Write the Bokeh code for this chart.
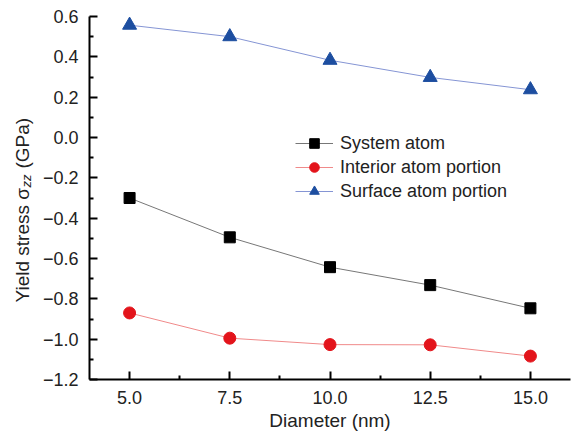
import math
from bokeh.plotting import figure
from bokeh.layouts import row
from bokeh.models import FixedTicker, CustomJSTickFormatter, Legend, LegendItem
from bokeh.core.properties import value
from bokeh.embed import file_html
from bokeh.resources import INLINE

# ---- data ----
diameter = [5.0, 7.5, 10.0, 12.5, 15.0]
system_atom = [-0.30, -0.495, -0.643, -0.732, -0.847]
interior_atom = [-0.870, -0.995, -1.027, -1.028, -1.084]
surface_atom = [0.557, 0.500, 0.383, 0.298, 0.237]
x_ticks = [5.0, 7.5, 10.0, 12.5, 15.0]
x_minor = [6.25, 8.75, 11.25, 13.75]
y_ticks = [-1.2, -1.0, -0.8, -0.6, -0.4, -0.2, 0.0, 0.2, 0.4, 0.6]
y_minor = [-1.1, -0.9, -0.7, -0.5, -0.3, -0.1, 0.1, 0.3, 0.5]
y_label_parts = ["Yield stress \u03c3", "zz", "(GPa)"]
x_label = "Diameter (nm)"
series_names = ["System atom", "Interior atom portion", "Surface atom portion"]

FONT = "Liberation Sans"
TXT = "#222222"
W, H = 580, 434
LABW = 34
LEFT, RIGHT, TOP, BOTTOM = 89 - LABW, 10, 16, 55

# ---- label strip (rotated y-axis title with subscript) ----
# its frame is aligned with the main frame (rows align frames), so map
# the y range so that data y == H - screen y
lab = figure(width=LABW, height=H, x_range=(0, LABW), y_range=(BOTTOM, H - TOP),
             x_axis_location=None, y_axis_location=None,
             output_backend="svg", toolbar_location=None,
             min_border_left=0, min_border_right=0,
             min_border_top=TOP, min_border_bottom=BOTTOM)
lab.grid.visible = False
lab.outline_line_color = None
lab.background_fill_color = "white"
lab.border_fill_color = "white"

base_y = H - 302          # bottom of the "Y"
w_main = 114              # width of "Yield stress σ" at 19px
w_sub = 20                # width of "zz" at 13px plus a space
lab.text(x=[22], y=[base_y], text=[y_label_parts[0]], angle=math.pi / 2,
         text_font=value(FONT), text_font_size="19px", text_color=TXT,
         text_align="left", text_baseline="middle")
lab.text(x=[26], y=[base_y + w_main + 1], text=[y_label_parts[1]], angle=math.pi / 2,
         text_font=value(FONT), text_font_size="13px", text_font_style="italic",
         text_color=TXT, text_align="left", text_baseline="middle")
lab.text(x=[22], y=[base_y + w_main + w_sub], text=[y_label_parts[2]], angle=math.pi / 2,
         text_font=value(FONT), text_font_size="19px", text_color=TXT,
         text_align="left", text_baseline="middle")

# ---- main plot ----
p = figure(width=W - LABW, height=H, x_range=(4, 16), y_range=(-1.2, 0.6),
           output_backend="svg", toolbar_location=None,
           min_border_left=LEFT, min_border_right=RIGHT,
           min_border_top=TOP, min_border_bottom=BOTTOM)
p.outline_line_color = None
p.xgrid.visible = False
p.ygrid.visible = False
p.background_fill_color = "white"
p.border_fill_color = "white"

fmt = CustomJSTickFormatter(code="""
var s = Math.abs(tick) < 1e-9 ? '0.0' : tick.toFixed(1);
return s.replace('-', '\u2212');
""")

for ax in (p.xaxis[0], p.yaxis[0]):
    ax.axis_line_width = 2
    ax.axis_line_color = "black"
    ax.major_tick_in = 8
    ax.major_tick_out = 0
    ax.minor_tick_in = 4
    ax.minor_tick_out = 0
    ax.major_tick_line_width = 2
    ax.minor_tick_line_width = 2
    ax.major_tick_line_color = "black"
    ax.minor_tick_line_color = "black"
    ax.major_label_text_font = FONT
    ax.major_label_text_font_size = "18px"
    ax.major_label_text_color = TXT
    ax.axis_label_text_font = FONT
    ax.axis_label_text_font_size = "19px"
    ax.axis_label_text_font_style = "normal"
    ax.axis_label_text_color = TXT
    ax.formatter = fmt

p.xaxis.ticker = FixedTicker(ticks=x_ticks, minor_ticks=x_minor)
p.yaxis.ticker = FixedTicker(ticks=y_ticks, minor_ticks=y_minor)
p.xaxis.major_label_standoff = 11
p.yaxis.major_label_standoff = 11
p.xaxis.axis_label = x_label
p.xaxis.axis_label_standoff = 3
p.yaxis.axis_label = None

l1 = p.line(diameter, system_atom, line_color="#777777", line_width=1)
m1 = p.scatter(diameter, system_atom, marker="square", size=11, fill_color="black", line_color="black")
l2 = p.line(diameter, interior_atom, line_color="#f08a8a", line_width=1)
m2 = p.scatter(diameter, interior_atom, marker="circle", size=12, fill_color="#e3141b", line_color="#e3141b")
l3 = p.line(diameter, surface_atom, line_color="#8595d4", line_width=1)
m3 = p.scatter(diameter, surface_atom, marker="triangle", size=14, fill_color="#1d4ea0", line_color="#1d4ea0")

legend = Legend(items=[
    LegendItem(label=series_names[0], renderers=[l1, m1]),
    LegendItem(label=series_names[1], renderers=[l2, m2]),
    LegendItem(label=series_names[2], renderers=[l3, m3]),
], location=(206, 176))
legend.border_line_color = None
legend.background_fill_alpha = 0
legend.label_text_font = FONT
legend.label_text_font_size = "18px"
legend.label_text_color = TXT
legend.glyph_width = 38
legend.glyph_height = 24
legend.spacing = 0
legend.label_standoff = 7
legend.padding = 0
legend.margin = 0
p.add_layout(legend, "center")

layout = row(lab, p, spacing=0)
open("out.html", "w").write(file_html(layout, INLINE))
